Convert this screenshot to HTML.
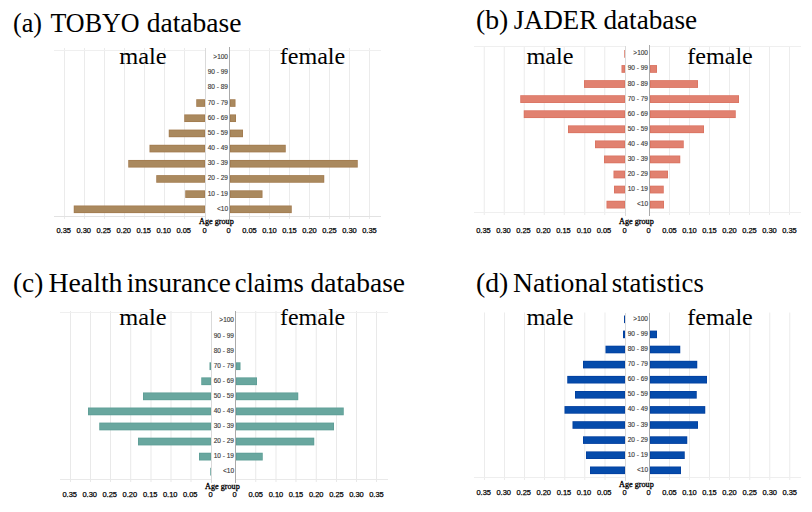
<!DOCTYPE html>
<html><head><meta charset="utf-8"><style>
html,body{margin:0;padding:0;background:#fff;width:812px;height:512px;overflow:hidden}
svg{display:block}
.title{font-family:"Liberation Serif",serif;font-size:27.2px;fill:#000}
.sex{font-family:"Liberation Serif",serif;font-size:24px;fill:#000}
.lab{font-family:"Liberation Sans",sans-serif;font-size:6.5px;fill:#3c3c3c;stroke:#3c3c3c;stroke-width:0.15px}
.tick{font-family:"Liberation Sans",sans-serif;font-size:7.5px;fill:#000;stroke:#000;stroke-width:0.25px}
.age{font-family:"Liberation Serif",serif;font-size:8.2px;fill:#000;stroke:#000;stroke-width:0.3px}
</style></head><body>
<svg width="812" height="512" viewBox="0 0 812 512">
<rect x="64.0" y="48" width="1" height="171" fill="#ebebeb"/>
<rect x="84.0" y="48" width="1" height="171" fill="#ebebeb"/>
<rect x="104.0" y="48" width="1" height="171" fill="#ebebeb"/>
<rect x="124.0" y="48" width="1" height="171" fill="#ebebeb"/>
<rect x="144.0" y="48" width="1" height="171" fill="#ebebeb"/>
<rect x="164.0" y="48" width="1" height="171" fill="#ebebeb"/>
<rect x="184.0" y="48" width="1" height="171" fill="#ebebeb"/>
<rect x="249.0" y="48" width="1" height="171" fill="#ebebeb"/>
<rect x="269.0" y="48" width="1" height="171" fill="#ebebeb"/>
<rect x="289.0" y="48" width="1" height="171" fill="#ebebeb"/>
<rect x="309.0" y="48" width="1" height="171" fill="#ebebeb"/>
<rect x="329.0" y="48" width="1" height="171" fill="#ebebeb"/>
<rect x="349.0" y="48" width="1" height="171" fill="#ebebeb"/>
<rect x="369.0" y="48" width="1" height="171" fill="#ebebeb"/>
<rect x="54" y="50" width="151" height="1" fill="#efefef"/>
<rect x="230" y="50" width="151" height="1" fill="#efefef"/>
<rect x="54" y="216" width="151" height="1" fill="#e2e2e2"/>
<rect x="230" y="216" width="151" height="1" fill="#e2e2e2"/>
<rect x="196.25" y="99.24" width="8.75" height="7.6" fill="#a27b4f"/>
<rect x="197.05" y="100.04" width="7.15" height="6.00" fill="#aa895e"/>
<rect x="230" y="99.24" width="5.50" height="7.6" fill="#a27b4f"/>
<rect x="230.80" y="100.04" width="3.90" height="6.00" fill="#aa895e"/>
<rect x="184.25" y="114.42" width="20.75" height="7.6" fill="#a27b4f"/>
<rect x="185.05" y="115.22" width="19.15" height="6.00" fill="#aa895e"/>
<rect x="230" y="114.42" width="6.00" height="7.6" fill="#a27b4f"/>
<rect x="230.80" y="115.22" width="4.40" height="6.00" fill="#aa895e"/>
<rect x="168.75" y="129.60" width="36.25" height="7.6" fill="#a27b4f"/>
<rect x="169.55" y="130.40" width="34.65" height="6.00" fill="#aa895e"/>
<rect x="230" y="129.60" width="13.00" height="7.6" fill="#a27b4f"/>
<rect x="230.80" y="130.40" width="11.40" height="6.00" fill="#aa895e"/>
<rect x="149.5" y="144.78" width="55.50" height="7.6" fill="#a27b4f"/>
<rect x="150.30" y="145.58" width="53.90" height="6.00" fill="#aa895e"/>
<rect x="230" y="144.78" width="55.75" height="7.6" fill="#a27b4f"/>
<rect x="230.80" y="145.58" width="54.15" height="6.00" fill="#aa895e"/>
<rect x="128.25" y="159.96" width="76.75" height="7.6" fill="#a27b4f"/>
<rect x="129.05" y="160.76" width="75.15" height="6.00" fill="#aa895e"/>
<rect x="230" y="159.96" width="127.75" height="7.6" fill="#a27b4f"/>
<rect x="230.80" y="160.76" width="126.15" height="6.00" fill="#aa895e"/>
<rect x="156.25" y="175.14" width="48.75" height="7.6" fill="#a27b4f"/>
<rect x="157.05" y="175.94" width="47.15" height="6.00" fill="#aa895e"/>
<rect x="230" y="175.14" width="94.25" height="7.6" fill="#a27b4f"/>
<rect x="230.80" y="175.94" width="92.65" height="6.00" fill="#aa895e"/>
<rect x="185.25" y="190.32" width="19.75" height="7.6" fill="#a27b4f"/>
<rect x="186.05" y="191.12" width="18.15" height="6.00" fill="#aa895e"/>
<rect x="230" y="190.32" width="32.50" height="7.6" fill="#a27b4f"/>
<rect x="230.80" y="191.12" width="30.90" height="6.00" fill="#aa895e"/>
<rect x="73.75" y="205.50" width="131.25" height="7.6" fill="#a27b4f"/>
<rect x="74.55" y="206.30" width="129.65" height="6.00" fill="#aa895e"/>
<rect x="230" y="205.50" width="61.75" height="7.6" fill="#a27b4f"/>
<rect x="230.80" y="206.30" width="60.15" height="6.00" fill="#aa895e"/>
<rect x="205" y="48" width="1" height="172" fill="#dadada"/>
<rect x="229" y="47" width="1" height="173" fill="#aaaaaa"/>
<text x="228" y="59.00" class="lab" text-anchor="end">&gt;100</text>
<text x="228" y="74.18" class="lab" text-anchor="end">90 - 99</text>
<text x="228" y="89.36" class="lab" text-anchor="end">80 - 89</text>
<text x="228" y="104.54" class="lab" text-anchor="end">70 - 79</text>
<text x="228" y="119.72" class="lab" text-anchor="end">60 - 69</text>
<text x="228" y="134.90" class="lab" text-anchor="end">50 - 59</text>
<text x="228" y="150.08" class="lab" text-anchor="end">40 - 49</text>
<text x="228" y="165.26" class="lab" text-anchor="end">30 - 39</text>
<text x="228" y="180.44" class="lab" text-anchor="end">20 - 29</text>
<text x="228" y="195.62" class="lab" text-anchor="end">10 - 19</text>
<text x="228" y="210.80" class="lab" text-anchor="end">&lt;10</text>
<text x="63.70" y="233.2" class="tick" text-anchor="middle">0.35</text>
<text x="369.50" y="233.2" class="tick" text-anchor="middle">0.35</text>
<text x="83.70" y="233.2" class="tick" text-anchor="middle">0.30</text>
<text x="349.50" y="233.2" class="tick" text-anchor="middle">0.30</text>
<text x="103.70" y="233.2" class="tick" text-anchor="middle">0.25</text>
<text x="329.50" y="233.2" class="tick" text-anchor="middle">0.25</text>
<text x="123.70" y="233.2" class="tick" text-anchor="middle">0.20</text>
<text x="309.50" y="233.2" class="tick" text-anchor="middle">0.20</text>
<text x="143.70" y="233.2" class="tick" text-anchor="middle">0.15</text>
<text x="289.50" y="233.2" class="tick" text-anchor="middle">0.15</text>
<text x="163.70" y="233.2" class="tick" text-anchor="middle">0.10</text>
<text x="269.50" y="233.2" class="tick" text-anchor="middle">0.10</text>
<text x="183.70" y="233.2" class="tick" text-anchor="middle">0.05</text>
<text x="249.50" y="233.2" class="tick" text-anchor="middle">0.05</text>
<text x="204.7" y="233.2" class="tick" text-anchor="middle">0</text>
<text x="228.7" y="233.2" class="tick" text-anchor="middle">0</text>
<text x="199" y="223.5" class="age">Age group</text>
<text x="12.95" y="31.8" class="title" textLength="29.10" lengthAdjust="spacingAndGlyphs">(a)</text>
<text x="50.45" y="31.8" class="title" textLength="89.11" lengthAdjust="spacingAndGlyphs">TOBYO</text>
<text x="146.70" y="31.8" class="title" textLength="94.86" lengthAdjust="spacingAndGlyphs">database</text>
<text x="119.20" y="64" class="sex" textLength="47.41" lengthAdjust="spacingAndGlyphs">male</text>
<text x="279.70" y="64" class="sex" textLength="65.60" lengthAdjust="spacingAndGlyphs">female</text>
<rect x="483.75" y="46" width="1" height="169" fill="#ececec"/>
<rect x="503.75" y="46" width="1" height="169" fill="#ececec"/>
<rect x="523.75" y="46" width="1" height="169" fill="#ececec"/>
<rect x="543.75" y="46" width="1" height="169" fill="#ececec"/>
<rect x="563.75" y="46" width="1" height="169" fill="#ececec"/>
<rect x="584.25" y="46" width="1" height="169" fill="#ececec"/>
<rect x="604.25" y="46" width="1" height="169" fill="#ececec"/>
<rect x="669.0" y="46" width="1" height="169" fill="#ececec"/>
<rect x="689.0" y="46" width="1" height="169" fill="#ececec"/>
<rect x="709.0" y="46" width="1" height="169" fill="#ececec"/>
<rect x="729.0" y="46" width="1" height="169" fill="#ececec"/>
<rect x="749.0" y="46" width="1" height="169" fill="#ececec"/>
<rect x="769.0" y="46" width="1" height="169" fill="#ececec"/>
<rect x="789.0" y="46" width="1" height="169" fill="#ececec"/>
<rect x="474" y="46" width="151" height="1" fill="#efefef"/>
<rect x="650" y="46" width="151" height="1" fill="#efefef"/>
<rect x="474" y="212" width="151" height="1" fill="#efefef"/>
<rect x="650" y="212" width="151" height="1" fill="#efefef"/>
<rect x="624.25" y="50.00" width="0.75" height="7.75" fill="#da7361"/>
<rect x="621.5" y="65.08" width="3.50" height="7.75" fill="#da7361"/>
<rect x="622.30" y="65.88" width="1.90" height="6.15" fill="#e18170"/>
<rect x="650" y="65.08" width="7.00" height="7.75" fill="#da7361"/>
<rect x="650.80" y="65.88" width="5.40" height="6.15" fill="#e18170"/>
<rect x="584" y="80.15" width="41.00" height="7.75" fill="#da7361"/>
<rect x="584.80" y="80.95" width="39.40" height="6.15" fill="#e18170"/>
<rect x="650" y="80.15" width="48.00" height="7.75" fill="#da7361"/>
<rect x="650.80" y="80.95" width="46.40" height="6.15" fill="#e18170"/>
<rect x="520.25" y="95.22" width="104.75" height="7.75" fill="#da7361"/>
<rect x="521.05" y="96.02" width="103.15" height="6.15" fill="#e18170"/>
<rect x="650" y="95.22" width="89.00" height="7.75" fill="#da7361"/>
<rect x="650.80" y="96.02" width="87.40" height="6.15" fill="#e18170"/>
<rect x="523.75" y="110.30" width="101.25" height="7.75" fill="#da7361"/>
<rect x="524.55" y="111.10" width="99.65" height="6.15" fill="#e18170"/>
<rect x="650" y="110.30" width="85.75" height="7.75" fill="#da7361"/>
<rect x="650.80" y="111.10" width="84.15" height="6.15" fill="#e18170"/>
<rect x="568" y="125.38" width="57.00" height="7.75" fill="#da7361"/>
<rect x="568.80" y="126.17" width="55.40" height="6.15" fill="#e18170"/>
<rect x="650" y="125.38" width="54.00" height="7.75" fill="#da7361"/>
<rect x="650.80" y="126.17" width="52.40" height="6.15" fill="#e18170"/>
<rect x="595" y="140.45" width="30.00" height="7.75" fill="#da7361"/>
<rect x="595.80" y="141.25" width="28.40" height="6.15" fill="#e18170"/>
<rect x="650" y="140.45" width="33.75" height="7.75" fill="#da7361"/>
<rect x="650.80" y="141.25" width="32.15" height="6.15" fill="#e18170"/>
<rect x="604" y="155.52" width="21.00" height="7.75" fill="#da7361"/>
<rect x="604.80" y="156.32" width="19.40" height="6.15" fill="#e18170"/>
<rect x="650" y="155.52" width="30.25" height="7.75" fill="#da7361"/>
<rect x="650.80" y="156.32" width="28.65" height="6.15" fill="#e18170"/>
<rect x="613.5" y="170.60" width="11.50" height="7.75" fill="#da7361"/>
<rect x="614.30" y="171.40" width="9.90" height="6.15" fill="#e18170"/>
<rect x="650" y="170.60" width="18.00" height="7.75" fill="#da7361"/>
<rect x="650.80" y="171.40" width="16.40" height="6.15" fill="#e18170"/>
<rect x="614" y="185.67" width="11.00" height="7.75" fill="#da7361"/>
<rect x="614.80" y="186.47" width="9.40" height="6.15" fill="#e18170"/>
<rect x="650" y="185.67" width="13.75" height="7.75" fill="#da7361"/>
<rect x="650.80" y="186.47" width="12.15" height="6.15" fill="#e18170"/>
<rect x="606.5" y="200.75" width="18.50" height="7.75" fill="#da7361"/>
<rect x="607.30" y="201.55" width="16.90" height="6.15" fill="#e18170"/>
<rect x="650" y="200.75" width="14.00" height="7.75" fill="#da7361"/>
<rect x="650.80" y="201.55" width="12.40" height="6.15" fill="#e18170"/>
<rect x="625" y="46" width="1" height="170" fill="#dadada"/>
<rect x="649" y="45" width="1" height="171" fill="#aaaaaa"/>
<text x="648" y="55.38" class="lab" text-anchor="end">&gt;100</text>
<text x="648" y="70.45" class="lab" text-anchor="end">90 - 99</text>
<text x="648" y="85.53" class="lab" text-anchor="end">80 - 89</text>
<text x="648" y="100.60" class="lab" text-anchor="end">70 - 79</text>
<text x="648" y="115.67" class="lab" text-anchor="end">60 - 69</text>
<text x="648" y="130.75" class="lab" text-anchor="end">50 - 59</text>
<text x="648" y="145.82" class="lab" text-anchor="end">40 - 49</text>
<text x="648" y="160.90" class="lab" text-anchor="end">30 - 39</text>
<text x="648" y="175.97" class="lab" text-anchor="end">20 - 29</text>
<text x="648" y="191.05" class="lab" text-anchor="end">10 - 19</text>
<text x="648" y="206.12" class="lab" text-anchor="end">&lt;10</text>
<text x="483.45" y="233.2" class="tick" text-anchor="middle">0.35</text>
<text x="789.50" y="233.2" class="tick" text-anchor="middle">0.35</text>
<text x="503.45" y="233.2" class="tick" text-anchor="middle">0.30</text>
<text x="769.50" y="233.2" class="tick" text-anchor="middle">0.30</text>
<text x="523.45" y="233.2" class="tick" text-anchor="middle">0.25</text>
<text x="749.50" y="233.2" class="tick" text-anchor="middle">0.25</text>
<text x="543.45" y="233.2" class="tick" text-anchor="middle">0.20</text>
<text x="729.50" y="233.2" class="tick" text-anchor="middle">0.20</text>
<text x="563.45" y="233.2" class="tick" text-anchor="middle">0.15</text>
<text x="709.50" y="233.2" class="tick" text-anchor="middle">0.15</text>
<text x="583.95" y="233.2" class="tick" text-anchor="middle">0.10</text>
<text x="689.50" y="233.2" class="tick" text-anchor="middle">0.10</text>
<text x="603.95" y="233.2" class="tick" text-anchor="middle">0.05</text>
<text x="669.50" y="233.2" class="tick" text-anchor="middle">0.05</text>
<text x="624.7" y="233.2" class="tick" text-anchor="middle">0</text>
<text x="648.7" y="233.2" class="tick" text-anchor="middle">0</text>
<text x="619" y="223.5" class="age">Age group</text>
<text x="475.95" y="28.6" class="title" textLength="32.35" lengthAdjust="spacingAndGlyphs">(b)</text>
<text x="513.70" y="28.6" class="title" textLength="83.36" lengthAdjust="spacingAndGlyphs">JADER</text>
<text x="603.45" y="28.6" class="title" textLength="93.66" lengthAdjust="spacingAndGlyphs">database</text>
<text x="526.45" y="64" class="sex" textLength="47.11" lengthAdjust="spacingAndGlyphs">male</text>
<text x="687.20" y="64" class="sex" textLength="65.60" lengthAdjust="spacingAndGlyphs">female</text>
<rect x="70.0" y="311" width="1" height="171" fill="#e9e9e9"/>
<rect x="90.0" y="311" width="1" height="171" fill="#e9e9e9"/>
<rect x="110.0" y="311" width="1" height="171" fill="#e9e9e9"/>
<rect x="130.2" y="311" width="1" height="171" fill="#e9e9e9"/>
<rect x="150.5" y="311" width="1" height="171" fill="#e9e9e9"/>
<rect x="170.5" y="311" width="1" height="171" fill="#e9e9e9"/>
<rect x="190.5" y="311" width="1" height="171" fill="#e9e9e9"/>
<rect x="255.25" y="311" width="1" height="171" fill="#e9e9e9"/>
<rect x="275.5" y="311" width="1" height="171" fill="#e9e9e9"/>
<rect x="295.5" y="311" width="1" height="171" fill="#e9e9e9"/>
<rect x="315.75" y="311" width="1" height="171" fill="#e9e9e9"/>
<rect x="336.0" y="311" width="1" height="171" fill="#e9e9e9"/>
<rect x="356.0" y="311" width="1" height="171" fill="#e9e9e9"/>
<rect x="376.0" y="311" width="1" height="171" fill="#e9e9e9"/>
<rect x="60" y="312" width="151" height="1" fill="#efefef"/>
<rect x="236" y="312" width="152" height="1" fill="#efefef"/>
<rect x="60" y="479" width="151" height="1" fill="#e9e9e9"/>
<rect x="236" y="479" width="152" height="1" fill="#e9e9e9"/>
<rect x="209.5" y="362.31" width="1.50" height="7.75" fill="#5e9e96"/>
<rect x="236" y="362.31" width="4.50" height="7.75" fill="#5e9e96"/>
<rect x="236.80" y="363.11" width="2.90" height="6.15" fill="#69a79f"/>
<rect x="201.25" y="377.38" width="9.75" height="7.75" fill="#5e9e96"/>
<rect x="202.05" y="378.18" width="8.15" height="6.15" fill="#69a79f"/>
<rect x="236" y="377.38" width="21.00" height="7.75" fill="#5e9e96"/>
<rect x="236.80" y="378.18" width="19.40" height="6.15" fill="#69a79f"/>
<rect x="143" y="392.45" width="68.00" height="7.75" fill="#5e9e96"/>
<rect x="143.80" y="393.25" width="66.40" height="6.15" fill="#69a79f"/>
<rect x="236" y="392.45" width="62.25" height="7.75" fill="#5e9e96"/>
<rect x="236.80" y="393.25" width="60.65" height="6.15" fill="#69a79f"/>
<rect x="88" y="407.52" width="123.00" height="7.75" fill="#5e9e96"/>
<rect x="88.80" y="408.32" width="121.40" height="6.15" fill="#69a79f"/>
<rect x="236" y="407.52" width="107.75" height="7.75" fill="#5e9e96"/>
<rect x="236.80" y="408.32" width="106.15" height="6.15" fill="#69a79f"/>
<rect x="99.25" y="422.59" width="111.75" height="7.75" fill="#5e9e96"/>
<rect x="100.05" y="423.39" width="110.15" height="6.15" fill="#69a79f"/>
<rect x="236" y="422.59" width="98.00" height="7.75" fill="#5e9e96"/>
<rect x="236.80" y="423.39" width="96.40" height="6.15" fill="#69a79f"/>
<rect x="138" y="437.66" width="73.00" height="7.75" fill="#5e9e96"/>
<rect x="138.80" y="438.46" width="71.40" height="6.15" fill="#69a79f"/>
<rect x="236" y="437.66" width="78.25" height="7.75" fill="#5e9e96"/>
<rect x="236.80" y="438.46" width="76.65" height="6.15" fill="#69a79f"/>
<rect x="199" y="452.73" width="12.00" height="7.75" fill="#5e9e96"/>
<rect x="199.80" y="453.53" width="10.40" height="6.15" fill="#69a79f"/>
<rect x="236" y="452.73" width="26.75" height="7.75" fill="#5e9e96"/>
<rect x="236.80" y="453.53" width="25.15" height="6.15" fill="#69a79f"/>
<rect x="210.25" y="467.80" width="0.75" height="7.75" fill="#5e9e96"/>
<rect x="211" y="311" width="1" height="172" fill="#dadada"/>
<rect x="235" y="311" width="1" height="172" fill="#aaaaaa"/>
<text x="234" y="322.48" class="lab" text-anchor="end">&gt;100</text>
<text x="234" y="337.55" class="lab" text-anchor="end">90 - 99</text>
<text x="234" y="352.62" class="lab" text-anchor="end">80 - 89</text>
<text x="234" y="367.69" class="lab" text-anchor="end">70 - 79</text>
<text x="234" y="382.75" class="lab" text-anchor="end">60 - 69</text>
<text x="234" y="397.83" class="lab" text-anchor="end">50 - 59</text>
<text x="234" y="412.90" class="lab" text-anchor="end">40 - 49</text>
<text x="234" y="427.97" class="lab" text-anchor="end">30 - 39</text>
<text x="234" y="443.04" class="lab" text-anchor="end">20 - 29</text>
<text x="234" y="458.11" class="lab" text-anchor="end">10 - 19</text>
<text x="234" y="473.18" class="lab" text-anchor="end">&lt;10</text>
<text x="69.70" y="496.7" class="tick" text-anchor="middle">0.35</text>
<text x="376.50" y="496.7" class="tick" text-anchor="middle">0.35</text>
<text x="89.70" y="496.7" class="tick" text-anchor="middle">0.30</text>
<text x="356.50" y="496.7" class="tick" text-anchor="middle">0.30</text>
<text x="109.70" y="496.7" class="tick" text-anchor="middle">0.25</text>
<text x="336.50" y="496.7" class="tick" text-anchor="middle">0.25</text>
<text x="129.90" y="496.7" class="tick" text-anchor="middle">0.20</text>
<text x="316.25" y="496.7" class="tick" text-anchor="middle">0.20</text>
<text x="150.20" y="496.7" class="tick" text-anchor="middle">0.15</text>
<text x="296.00" y="496.7" class="tick" text-anchor="middle">0.15</text>
<text x="170.20" y="496.7" class="tick" text-anchor="middle">0.10</text>
<text x="276.00" y="496.7" class="tick" text-anchor="middle">0.10</text>
<text x="190.20" y="496.7" class="tick" text-anchor="middle">0.05</text>
<text x="255.75" y="496.7" class="tick" text-anchor="middle">0.05</text>
<text x="210.7" y="496.7" class="tick" text-anchor="middle">0</text>
<text x="234.7" y="496.7" class="tick" text-anchor="middle">0</text>
<text x="205" y="488.8" class="age">Age group</text>
<text x="12.95" y="291.9" class="title" textLength="30.35" lengthAdjust="spacingAndGlyphs">(c)</text>
<text x="48.45" y="291.9" class="title" textLength="74.09" lengthAdjust="spacingAndGlyphs">Health</text>
<text x="126.70" y="291.9" class="title" textLength="104.09" lengthAdjust="spacingAndGlyphs">insurance</text>
<text x="234.70" y="291.9" class="title" textLength="69.11" lengthAdjust="spacingAndGlyphs">claims</text>
<text x="310.45" y="291.9" class="title" textLength="94.61" lengthAdjust="spacingAndGlyphs">database</text>
<text x="119.20" y="325" class="sex" textLength="47.36" lengthAdjust="spacingAndGlyphs">male</text>
<text x="280.00" y="325" class="sex" textLength="65.20" lengthAdjust="spacingAndGlyphs">female</text>
<rect x="484.0" y="312.5" width="1" height="167.5" fill="#ececec"/>
<rect x="504.0" y="312.5" width="1" height="167.5" fill="#ececec"/>
<rect x="524.0" y="312.5" width="1" height="167.5" fill="#ececec"/>
<rect x="544.0" y="312.5" width="1" height="167.5" fill="#ececec"/>
<rect x="564.25" y="312.5" width="1" height="167.5" fill="#ececec"/>
<rect x="584.25" y="312.5" width="1" height="167.5" fill="#ececec"/>
<rect x="604.5" y="312.5" width="1" height="167.5" fill="#ececec"/>
<rect x="669.0" y="312.5" width="1" height="167.5" fill="#ececec"/>
<rect x="689.0" y="312.5" width="1" height="167.5" fill="#ececec"/>
<rect x="709.0" y="312.5" width="1" height="167.5" fill="#ececec"/>
<rect x="729.0" y="312.5" width="1" height="167.5" fill="#ececec"/>
<rect x="749.25" y="312.5" width="1" height="167.5" fill="#ececec"/>
<rect x="769.25" y="312.5" width="1" height="167.5" fill="#ececec"/>
<rect x="789.25" y="312.5" width="1" height="167.5" fill="#ececec"/>
<rect x="474" y="477" width="151" height="1" fill="#eeeeee"/>
<rect x="650" y="477" width="151" height="1" fill="#eeeeee"/>
<rect x="624.0" y="315.50" width="1.00" height="7.6" fill="#03409f"/>
<rect x="650" y="315.50" width="0.00" height="7.6" fill="#03409f"/>
<rect x="623" y="330.60" width="2.00" height="7.6" fill="#03409f"/>
<rect x="623.80" y="331.40" width="0.40" height="6.00" fill="#054bab"/>
<rect x="650" y="330.60" width="7.00" height="7.6" fill="#03409f"/>
<rect x="650.80" y="331.40" width="5.40" height="6.00" fill="#054bab"/>
<rect x="605.5" y="345.70" width="19.50" height="7.6" fill="#03409f"/>
<rect x="606.30" y="346.50" width="17.90" height="6.00" fill="#054bab"/>
<rect x="650" y="345.70" width="30.25" height="7.6" fill="#03409f"/>
<rect x="650.80" y="346.50" width="28.65" height="6.00" fill="#054bab"/>
<rect x="583" y="360.80" width="42.00" height="7.6" fill="#03409f"/>
<rect x="583.80" y="361.60" width="40.40" height="6.00" fill="#054bab"/>
<rect x="650" y="360.80" width="47.25" height="7.6" fill="#03409f"/>
<rect x="650.80" y="361.60" width="45.65" height="6.00" fill="#054bab"/>
<rect x="567.25" y="375.90" width="57.75" height="7.6" fill="#03409f"/>
<rect x="568.05" y="376.70" width="56.15" height="6.00" fill="#054bab"/>
<rect x="650" y="375.90" width="57.00" height="7.6" fill="#03409f"/>
<rect x="650.80" y="376.70" width="55.40" height="6.00" fill="#054bab"/>
<rect x="575" y="391.00" width="50.00" height="7.6" fill="#03409f"/>
<rect x="575.80" y="391.80" width="48.40" height="6.00" fill="#054bab"/>
<rect x="650" y="391.00" width="46.75" height="7.6" fill="#03409f"/>
<rect x="650.80" y="391.80" width="45.15" height="6.00" fill="#054bab"/>
<rect x="564.5" y="406.10" width="60.50" height="7.6" fill="#03409f"/>
<rect x="565.30" y="406.90" width="58.90" height="6.00" fill="#054bab"/>
<rect x="650" y="406.10" width="55.25" height="7.6" fill="#03409f"/>
<rect x="650.80" y="406.90" width="53.65" height="6.00" fill="#054bab"/>
<rect x="572.5" y="421.20" width="52.50" height="7.6" fill="#03409f"/>
<rect x="573.30" y="422.00" width="50.90" height="6.00" fill="#054bab"/>
<rect x="650" y="421.20" width="48.00" height="7.6" fill="#03409f"/>
<rect x="650.80" y="422.00" width="46.40" height="6.00" fill="#054bab"/>
<rect x="583" y="436.30" width="42.00" height="7.6" fill="#03409f"/>
<rect x="583.80" y="437.10" width="40.40" height="6.00" fill="#054bab"/>
<rect x="650" y="436.30" width="37.25" height="7.6" fill="#03409f"/>
<rect x="650.80" y="437.10" width="35.65" height="6.00" fill="#054bab"/>
<rect x="586" y="451.40" width="39.00" height="7.6" fill="#03409f"/>
<rect x="586.80" y="452.20" width="37.40" height="6.00" fill="#054bab"/>
<rect x="650" y="451.40" width="34.75" height="7.6" fill="#03409f"/>
<rect x="650.80" y="452.20" width="33.15" height="6.00" fill="#054bab"/>
<rect x="590" y="466.50" width="35.00" height="7.6" fill="#03409f"/>
<rect x="590.80" y="467.30" width="33.40" height="6.00" fill="#054bab"/>
<rect x="650" y="466.50" width="31.00" height="7.6" fill="#03409f"/>
<rect x="650.80" y="467.30" width="29.40" height="6.00" fill="#054bab"/>
<rect x="625" y="313" width="1" height="168" fill="#dadada"/>
<rect x="649" y="313" width="1" height="168" fill="#aaaaaa"/>
<text x="648" y="320.80" class="lab" text-anchor="end">&gt;100</text>
<text x="648" y="335.90" class="lab" text-anchor="end">90 - 99</text>
<text x="648" y="351.00" class="lab" text-anchor="end">80 - 89</text>
<text x="648" y="366.10" class="lab" text-anchor="end">70 - 79</text>
<text x="648" y="381.20" class="lab" text-anchor="end">60 - 69</text>
<text x="648" y="396.30" class="lab" text-anchor="end">50 - 59</text>
<text x="648" y="411.40" class="lab" text-anchor="end">40 - 49</text>
<text x="648" y="426.50" class="lab" text-anchor="end">30 - 39</text>
<text x="648" y="441.60" class="lab" text-anchor="end">20 - 29</text>
<text x="648" y="456.70" class="lab" text-anchor="end">10 - 19</text>
<text x="648" y="471.80" class="lab" text-anchor="end">&lt;10</text>
<text x="483.70" y="495.45" class="tick" text-anchor="middle">0.35</text>
<text x="789.75" y="495.45" class="tick" text-anchor="middle">0.35</text>
<text x="503.70" y="495.45" class="tick" text-anchor="middle">0.30</text>
<text x="769.75" y="495.45" class="tick" text-anchor="middle">0.30</text>
<text x="523.70" y="495.45" class="tick" text-anchor="middle">0.25</text>
<text x="749.75" y="495.45" class="tick" text-anchor="middle">0.25</text>
<text x="543.70" y="495.45" class="tick" text-anchor="middle">0.20</text>
<text x="729.50" y="495.45" class="tick" text-anchor="middle">0.20</text>
<text x="563.95" y="495.45" class="tick" text-anchor="middle">0.15</text>
<text x="709.50" y="495.45" class="tick" text-anchor="middle">0.15</text>
<text x="583.95" y="495.45" class="tick" text-anchor="middle">0.10</text>
<text x="689.50" y="495.45" class="tick" text-anchor="middle">0.10</text>
<text x="604.20" y="495.45" class="tick" text-anchor="middle">0.05</text>
<text x="669.50" y="495.45" class="tick" text-anchor="middle">0.05</text>
<text x="624.7" y="495.45" class="tick" text-anchor="middle">0</text>
<text x="648.7" y="495.45" class="tick" text-anchor="middle">0</text>
<text x="619" y="486.8" class="age">Age group</text>
<text x="475.95" y="291.9" class="title" textLength="32.35" lengthAdjust="spacingAndGlyphs">(d)</text>
<text x="512.95" y="291.9" class="title" textLength="95.36" lengthAdjust="spacingAndGlyphs">National</text>
<text x="611.70" y="291.9" class="title" textLength="92.11" lengthAdjust="spacingAndGlyphs">statistics</text>
<text x="526.45" y="325" class="sex" textLength="47.11" lengthAdjust="spacingAndGlyphs">male</text>
<text x="687.20" y="325" class="sex" textLength="65.60" lengthAdjust="spacingAndGlyphs">female</text>
</svg>
</body></html>
